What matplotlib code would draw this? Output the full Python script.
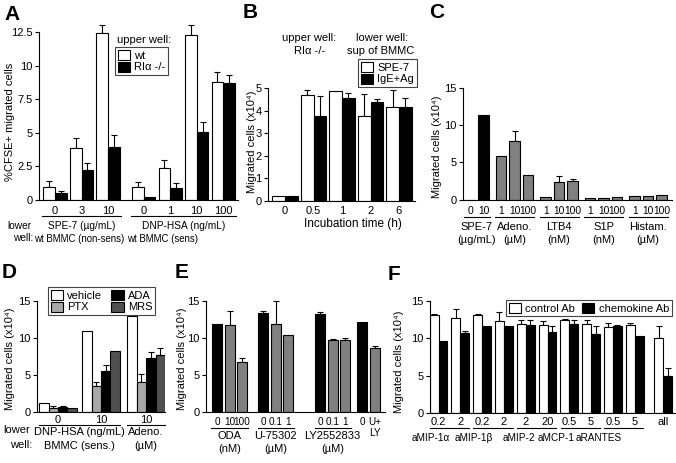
import matplotlib
matplotlib.use("Agg")
import matplotlib.pyplot as plt
import matplotlib.transforms as mtransforms
from matplotlib.patches import Patch
import numpy as np

plt.rcParams["font.family"] = ["Liberation Sans", "DejaVu Sans"]
plt.rcParams["font.size"] = 8

W, H = 676, 463

# ---------------------------------------------------------------- data
# A: %CFSE+ migrated cells
a_groups = ["SPE-7 (µg/mL)", "DNP-HSA (ng/mL)"]
a_ticks = [["0", "3", "10"], ["0", "1", "10", "100"]]
a_wt = [1.0, 3.9, 12.4, 1.0, 2.4, 12.3, 8.8]
a_wt_err = [0.45, 0.75, 0.6, 0.35, 0.55, 0.75, 0.75]
a_ko = [0.55, 2.25, 3.95, 0.25, 0.9, 5.05, 8.7]
a_ko_err = [0.15, 0.5, 0.9, 0.0, 0.4, 0.75, 0.6]

# B: migrated cells vs incubation time
b_ticks = ["0", "0.5", "1", "2", "6"]
b_spe7 = [0.2, 4.7, 4.87, 3.75, 4.18]
b_spe7_err = [0, 0.22, 0, 1.0, 0.72]
b_ige = [0.2, 3.75, 4.55, 4.38, 4.15]
b_ige_err = [0, 0.9, 0.25, 0.12, 0.4]

# C: chemoattractants
c_groups = [["SPE-7", "(µg/mL)"], ["Adeno.", "(µM)"], ["LTB4", "(nM)"],
            ["S1P", "(nM)"], ["Histam.", "(µM)"]]
c_ticks = [["0", "10"], ["1", "10", "100"], ["1", "10", "100"],
           ["1", "10", "100"], ["1", "10", "100"]]
c_values = [[0, 11.4], [5.8, 7.9, 3.3], [0.3, 2.3, 2.5],
            [0.2, 0.25, 0.35], [0.45, 0.5, 0.65]]
c_err = [[0, 0], [0, 1.3, 0], [0, 0.85, 0.3], [0, 0, 0], [0, 0, 0]]

# D: inhibitors
d_ticks = ["0", "10", "10"]
d_series = ["vehicle", "PTX", "ADA", "MRS"]
d_vehicle = [1.2, 11.0, 13.0]
d_vehicle_err = [0, 0, 0]
d_ptx = [0.55, 3.5, 4.0]
d_ptx_err = [0.25, 0.55, 1.2]
d_ada = [0.65, 5.5, 7.3]
d_ada_err = [0.2, 0.9, 0.85]
d_mrs = [0.6, 8.2, 7.7]
d_mrs_err = [0, 0, 1.0]

# E: receptor antagonists
e_groups = [["ODA", "(nM)"], ["U-75302", "(µM)"], ["LY2552833", "(µM)"], None]
e_ticks = [["0", "10", "100"], ["0", "0.1", "1"], ["0", "0.1", "1"], ["0", "U+\nLY"]]
e_values = [[11.9, 11.8, 6.8], [13.4, 11.9, 10.4], [13.3, 9.7, 9.7], [12.2, 8.6]]
e_err = [[0, 1.8, 0.5], [0.2, 3.1, 0], [0.2, 0.15, 0.3], [0, 0.3]]

# F: chemokine antibodies
f_groups = ["aMIP-1α", "aMIP-1β", "aMIP-2", "aMCP-1", "aRANTES"]
f_ticks = ["0.2", "2", "0.2", "2", "2", "20", "0.5", "5", "0.5", "5", "all"]
f_control = [13.1, 12.7, 13.1, 12.3, 11.9, 11.8, 12.4, 11.9, 11.5, 11.8, 10.1]
f_control_err = [0.1, 1.2, 0.1, 1.2, 0.6, 0.5, 0.2, 0.6, 0.6, 0.3, 1.5]
f_chemo = [9.7, 10.7, 11.7, 11.7, 11.8, 10.8, 11.9, 10.6, 11.6, 10.3, 5.0]
f_chemo_err = [0, 0.3, 0, 0, 0.7, 0.8, 0.6, 1.0, 0.2, 0, 1.0]

YLAB = "Migrated cells (x10⁴)"
GRAY = "#808080"

fig = plt.figure(figsize=(W / 100, H / 100), dpi=100)


def fy(row):
    return 1 - row / H


def make_ax(left, right, zero, ref_px, ref, ymax, c0, unit):
    """Axes placed in image pixels; x data unit = `unit` px, x=0 at pixel c0."""
    ppu = (zero - ref_px) / ref
    top = zero - ymax * ppu
    ax = fig.add_axes([left / W, fy(zero), (right - left) / W, (zero - top) / H])
    ax.set_ylim(0, ymax)
    ax.set_xlim((left - c0) / unit, (right - c0) / unit)
    ax.spines[["top", "right"]].set_visible(False)
    ax.spines["left"].set_bounds(0, ref)
    ax.spines[["left", "bottom"]].set_linewidth(0.8)
    ax.tick_params(axis="x", length=0, pad=3)
    ax.tick_params(axis="y", length=3, width=0.8, pad=1.5)
    ax.set_xticks([])
    return ax


def bars(ax, x, h, w, color, err):
    x = np.asarray(x, float)
    h = np.asarray(h, float)
    e = np.asarray(err, float)
    ax.bar(x, h, w, color=color, edgecolor="black", linewidth=0.8, zorder=2)
    m = e > 0
    if m.any():
        ax.errorbar(x[m], h[m], yerr=[np.zeros(m.sum()), e[m]], fmt="none",
                    ecolor="black", elinewidth=0.8, capsize=2.5, capthick=0.8, zorder=1)


def underline(ax, x0, x1, row):
    tr = mtransforms.blended_transform_factory(ax.transData, fig.transFigure)
    ax.plot([x0, x1], [fy(row), fy(row)], transform=tr, color="black",
            lw=0.8, clip_on=False)


def label(ax, x, row, s, size=8, ha="center", va="center"):
    tr = mtransforms.blended_transform_factory(ax.transData, fig.transFigure)
    ax.text(x, fy(row), s, transform=tr, ha=ha, va=va, fontsize=size, linespacing=1.15)


def layout(sizes, gaps):
    out, x = [], 0.0
    for i, n in enumerate(sizes):
        if i > 0:
            x += gaps[i - 1]
        out.append([x + k for k in range(n)])
        x += n
    return out


def legend(ax, handles, labels, x, row, **kw):
    lg = ax.legend(handles, labels, loc="upper left",
                   bbox_to_anchor=(x / W, fy(row)), bbox_transform=fig.transFigure,
                   fancybox=False, framealpha=1, edgecolor="#444444",
                   handlelength=1.1, handleheight=1.0, handletextpad=0.4,
                   borderpad=0.25, labelspacing=0.1, borderaxespad=0, fontsize=8, **kw)
    lg.get_frame().set_linewidth(0.8)
    lg.set_zorder(5)
    return lg


def patch(color):
    return Patch(facecolor=color, edgecolor="black", linewidth=0.8)


def ylabel(x, row, s, size=8):
    fig.text(x / W, fy(row), s, rotation=90, ha="center", va="center", fontsize=size)


def panel(x, row, s):
    fig.text(x / W, fy(row), s, ha="left", va="center", fontsize=15, fontweight="bold")


# ---------------------------------------------------------------- A
ax = make_ax(39, 238, 200, 32, 12.5, 13.5, 55, 26.5)
pos = layout([len(t) for t in a_ticks], [0.35])
xs = np.concatenate(pos)
bw = 0.44
bars(ax, xs - bw / 2, a_wt, bw, "white", a_wt_err)
bars(ax, xs + bw / 2, a_ko, bw, "black", a_ko_err)
ax.set_yticks([0, 2.5, 5, 7.5, 10, 12.5], ["0", "2.5", "5", "7.5", "10", "12.5"])
for p, t, g in zip(pos, a_ticks, a_groups):
    for xx, tt in zip(p, t):
        label(ax, xx, 211, tt)
    underline(ax, p[0] - bw - 0.05, p[-1] + bw + 0.05, 216.5)
    label(ax, np.mean(p), 226, g, 7.3)
label(ax, pos[0][0] - 0.8, 239, "wt BMMC (non-sens)", 6.9, ha="left")
label(ax, pos[1][0] - 0.62, 239, "wt BMMC (sens)", 6.9, ha="left")
fig.text(7 / W, fy(226), "lower", ha="left", va="center", fontsize=7.3)
fig.text(33 / W, fy(238), "well:", ha="right", va="center", fontsize=7.3)
ylabel(10, 122, "%CFSE+ migrated cells")
fig.text(144 / W, fy(40), "upper well:", ha="center", va="center", fontsize=8)
legend(ax, [patch("white"), patch("black")], ["wt", "RIα -/-"], 115, 47)
panel(4, 15, "A")

# ---------------------------------------------------------------- B
ax = make_ax(268, 415, 201, 88, 5, 5.2, 285, 28.5)
xs = np.arange(len(b_ticks))
bw = 0.44
bars(ax, xs - bw / 2, b_spe7, bw, "white", b_spe7_err)
bars(ax, xs + bw / 2, b_ige, bw, "black", b_ige_err)
ax.set_yticks(range(6))
for xx, tt in zip(xs, b_ticks):
    label(ax, xx, 211, tt)
label(ax, 2.4, 224, "Incubation time (h)", 8.5)
ylabel(252, 142, YLAB)
fig.text(309 / W, fy(38), "upper well:", ha="center", va="center", fontsize=8)
fig.text(310 / W, fy(51), "RIα -/-", ha="center", va="center", fontsize=8)
fig.text(382 / W, fy(38), "lower well:", ha="center", va="center", fontsize=8)
fig.text(381 / W, fy(51), "sup of BMMC", ha="center", va="center", fontsize=8)
legend(ax, [patch("white"), patch("black")], ["SPE-7", "IgE+Ag"], 358, 59)
panel(243, 12, "B")

# ---------------------------------------------------------------- C
ax = make_ax(463, 672, 199.5, 88, 15, 15.5, 470, 13.5)
pos = layout([len(t) for t in c_ticks], [0.3] * 4)
bw = 0.78
for gi, (p, v, e, t, g) in enumerate(zip(pos, c_values, c_err, c_ticks, c_groups)):
    bars(ax, p, v, bw, "black" if gi == 0 else GRAY, e)
    for xx, tt in zip(p, t):
        label(ax, xx, 211, tt, 7.4)
    underline(ax, p[0] - 0.45, p[-1] + 0.45, 217)
    label(ax, np.mean(p), 227, g[0])
    label(ax, np.mean(p), 240, g[1])
ax.set_yticks([0, 5, 10, 15])
ylabel(437, 147, YLAB)
panel(429, 12, "C")

# ---------------------------------------------------------------- D
ax = make_ax(37, 165, 412, 301, 15, 15.5, 58, 43)
xs = np.array([0, 1, 2.05])
bw = 0.22
d_vals = [d_vehicle, d_ptx, d_ada, d_mrs]
d_errs = [d_vehicle_err, d_ptx_err, d_ada_err, d_mrs_err]
d_cols = ["white", "#a8a8a8", "black", "#505050"]
for k, (v, e, c) in enumerate(zip(d_vals, d_errs, d_cols)):
    bars(ax, xs + (k - 1.5) * bw, v, bw, c, e)
ax.set_yticks([0, 5, 10, 15])
for xx, tt in zip(xs, d_ticks):
    label(ax, xx, 420, tt)
underline(ax, xs[0] - 2 * bw, xs[1] + 2 * bw, 425)
underline(ax, xs[2] - 2 * bw, xs[2] + 2 * bw, 425)
label(ax, (xs[0] + xs[1]) / 2, 432, "DNP-HSA (ng/mL)")
label(ax, (xs[0] + xs[1]) / 2, 446, "BMMC (sens.)")
label(ax, xs[2], 432, "Adeno.")
label(ax, xs[2], 446, "(µM)")
fig.text(3 / W, fy(430), "lower", ha="left", va="center", fontsize=8)
fig.text(32 / W, fy(445), "well:", ha="right", va="center", fontsize=8)
legend(ax, [patch(c) for c in d_cols], d_series, 48, 287, ncol=2, columnspacing=0.8)
ylabel(10, 359, YLAB)
panel(2, 272, "D")

# ---------------------------------------------------------------- E
ax = make_ax(206, 385, 412, 301, 15, 15.5, 217, 12.5)
pos = layout([len(t) for t in e_ticks], [0.7, 1.55, 0.35])
bw = 0.8
for p, v, e, t, g in zip(pos, e_values, e_err, e_ticks, e_groups):
    bars(ax, p, v, bw, ["black"] + [GRAY] * (len(p) - 1), e)
    for xx, tt in zip(p, t):
        label(ax, xx, 417, tt, 7.2, va="top")
    if g is not None:
        underline(ax, p[0] - 0.45, p[-1] + 0.45, 428)
        label(ax, np.mean(p), 436, g[0])
        label(ax, np.mean(p), 449, g[1])
ax.set_yticks([0, 5, 10, 15])
ylabel(182, 359, YLAB)
panel(175, 272, "E")

# ---------------------------------------------------------------- F
ax = make_ax(430, 675, 413, 301, 15, 15.5, 438.5, 21.8)
xs = np.arange(len(f_ticks), dtype=float)
xs[-1] += 0.3
bw = 0.41
bars(ax, xs - bw / 2, f_control, bw, "white", f_control_err)
bars(ax, xs + bw / 2, f_chemo, bw, "black", f_chemo_err)
ax.set_yticks([0, 5, 10, 15])
for xx, tt in zip(xs, f_ticks):
    label(ax, xx, 422, tt)
f_shift = [-0.84, -0.87, -0.81, -1.11, -1.14]
for k, g in enumerate(f_groups):
    a, b = xs[2 * k], xs[2 * k + 1]
    underline(ax, a - 0.4, b + 0.4, 428)
    label(ax, (a + b) / 2 + f_shift[k], 438, g, 7.2)
legend(ax, [patch("white"), patch("black")], ["control Ab", "chemokine Ab"], 506, 300,
       ncol=2, columnspacing=0.6)
ylabel(399, 362, YLAB)
panel(388, 274, "F")

fig.savefig("out.png", dpi=100)
